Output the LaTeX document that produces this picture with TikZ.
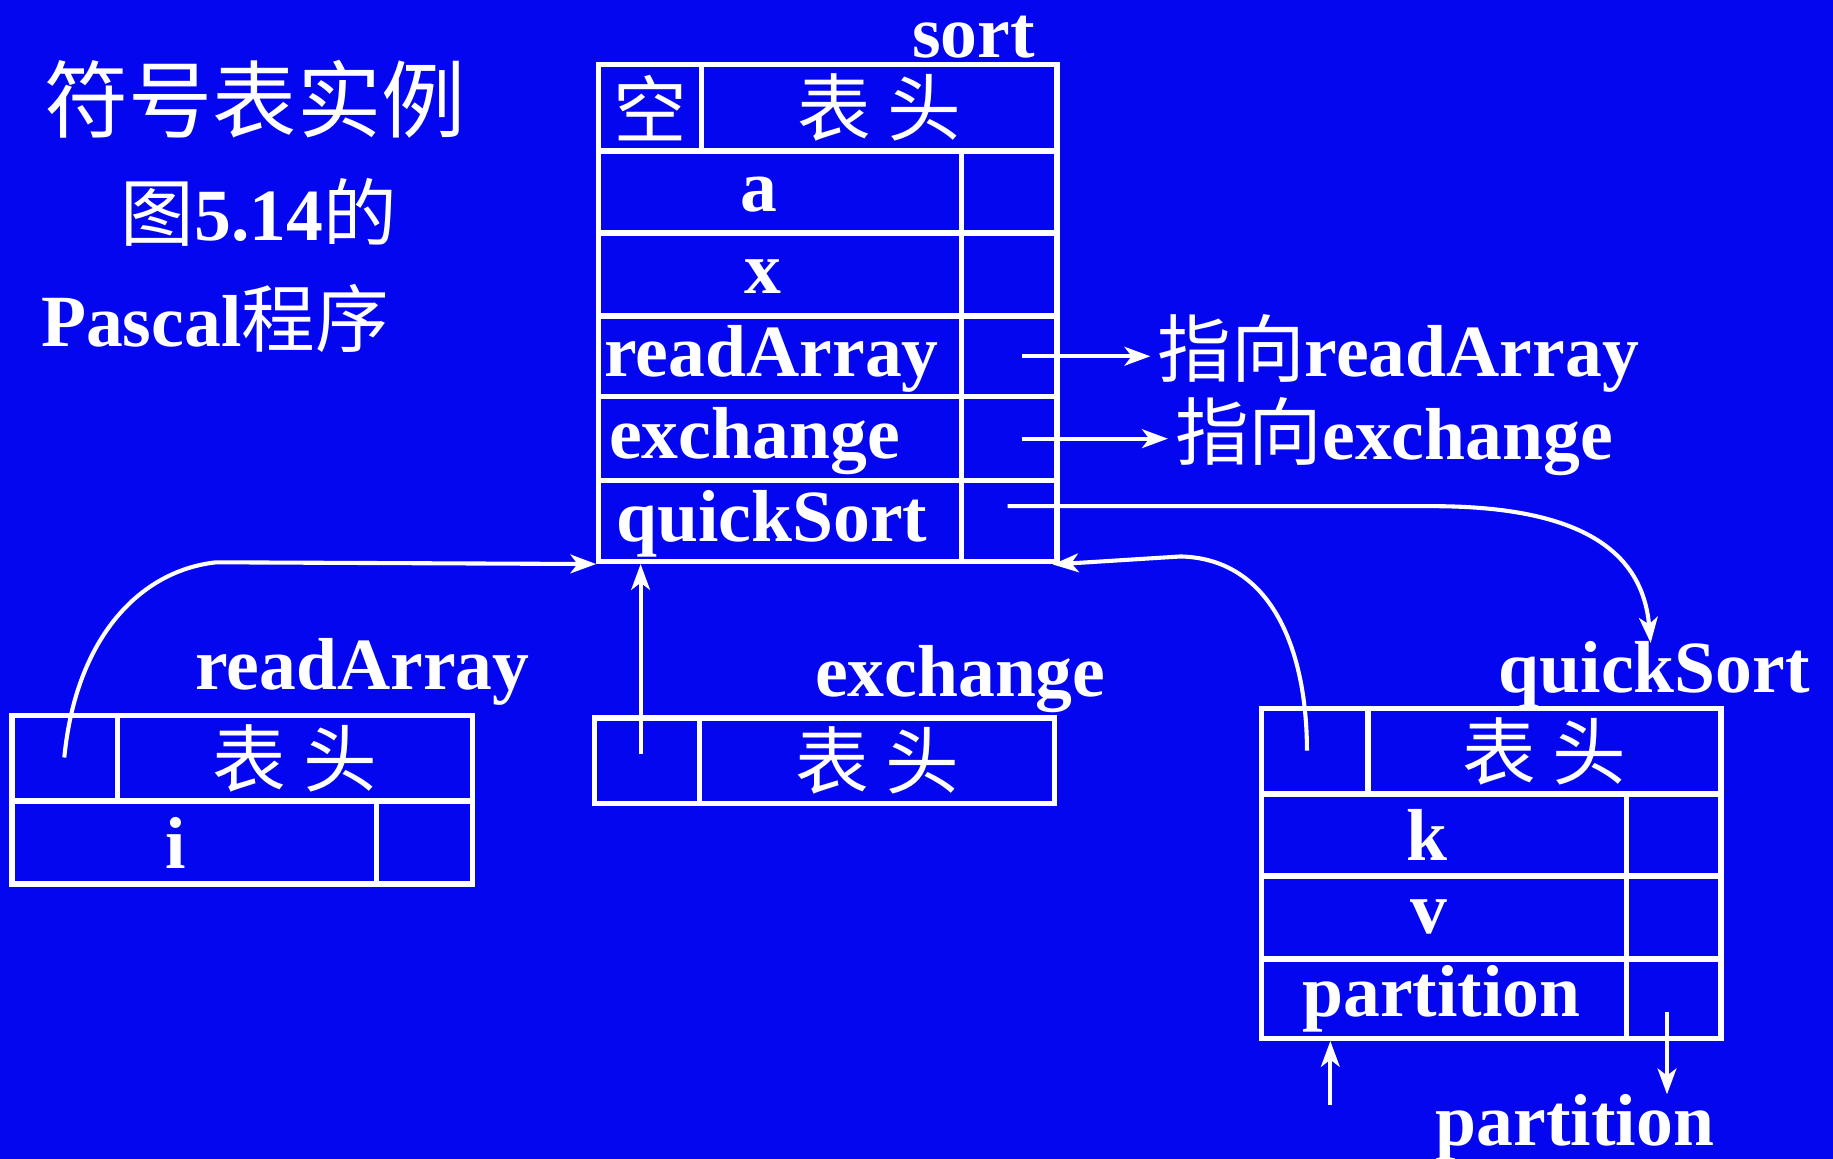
\documentclass[tikz,border=0pt]{standalone}
\usepackage{fontspec}
\setmainfont{Liberation Serif}
\newfontfamily\cjk{Noto Sans CJK SC}
\usetikzlibrary{arrows.meta}

\definecolor{slideblue}{RGB}{4,6,240}

\begin{document}
\begin{tikzpicture}[
        x=1pt, y=-1pt, % one unit per pixel, y downwards
        every node/.style = {text=white, font=\fontsize{63}{70}\selectfont\bfseries},
        cell/.style = {draw=white, line width=4.5pt, anchor=north west, inner sep=0pt}, % table cell
        lbl/.style = {anchor=base west, inner sep=0pt},
        entry/.style = {anchor=west, inner sep=0pt},
        ptr/.style = {draw=white, line width=3.5pt, -{Stealth[length=22pt, width=16pt, inset=6pt]}},
    ]

    \useasboundingbox (0,0) rectangle (1568,991);
    \fill[slideblue] (0,0) rectangle (1568,991);

    % title
    \node[anchor=west, inner sep=0pt, font=\fontsize{72}{80}\selectfont\cjk] (title1) at (38,85) {符号表实例};
    \node[anchor=west, inner sep=0pt] (title2) at (103,182) {{\cjk\mdseries 图}5.14{\cjk\mdseries 的}};
    \node[anchor=west, inner sep=0pt] (title3) at (35,272) {Pascal{\cjk\mdseries 程序}};

    % table of sort
    \node[lbl] (sortName) at (780,49) {sort};
    \node[cell, minimum width=88pt, minimum height=74pt] (sortNil) at (510,53) {\cjk\mdseries 空};
    \node[cell, minimum width=304pt, minimum height=74pt] (sortHead) at (598,53) {\cjk\mdseries 表 头};
    \foreach \nm/\txt/\top/\h/\dx in {sortA/a/127/70/123, sortX/x/197/71/127, sortRead/readArray/268/69/7,
            sortExch/exchange/337/72/11, sortQuick/quickSort/409/69/17} {
        \node[cell, minimum width=310pt, minimum height=\h pt] (\nm) at (510,\top) {};
        \node[entry] (\nm T) at ([xshift=\dx pt, yshift=-2pt]\nm.west) {\txt};
        \node[cell, minimum width=82pt, minimum height=\h pt] (\nm P) at (820,\top) {};
    }

    % table of readArray
    \node[lbl] (raName) at (167,590) {readArray};
    \node[cell, minimum width=90pt, minimum height=73pt] (raNil) at (8,610) {};
    \node[cell, minimum width=304pt, minimum height=73pt] (raHead) at (98,610) {\cjk\mdseries 表 头};
    \node[cell, minimum width=312pt, minimum height=71pt] (raI) at (8,683) {};
    \node[entry] (raIT) at ([xshift=133pt]raI.west) {i};
    \node[cell, minimum width=82pt, minimum height=71pt] (raIP) at (320,683) {};

    % table of exchange
    \node[lbl] (exName) at (697,596) {exchange};
    \node[cell, minimum width=90pt, minimum height=73pt] (exNil) at (506,612) {};
    \node[cell, minimum width=304pt, minimum height=73pt] (exHead) at (596,612) {\cjk\mdseries 表 头};

    % table of quickSort
    \node[lbl] (qsName) at (1282,592) {quickSort};
    \node[cell, minimum width=91pt, minimum height=73pt] (qsNil) at (1077,604) {};
    \node[cell, minimum width=302pt, minimum height=73pt] (qsHead) at (1168,604) {\cjk\mdseries 表 头};
    \foreach \nm/\txt/\top/\h/\dx in {qsK/k/677/70/126, qsV/v/747/71/129, qsPart/partition/818/68/37} {
        \node[cell, minimum width=312pt, minimum height=\h pt] (\nm) at (1077,\top) {};
        \node[entry] (\nm T) at ([xshift=\dx pt]\nm.west) {\txt};
        \node[cell, minimum width=81pt, minimum height=\h pt] (\nm P) at (1389,\top) {};
    }
    \node[lbl] (partName) at (1228,980) {partition};

    % pointers out of sort
    \node[lbl] (toRead) at (990,322) {{\cjk\mdseries 指向}readArray};
    \node[lbl] (toExch) at (1005,393) {{\cjk\mdseries 指向}exchange};
    \coordinate (readFrom) at ([xshift=11pt]sortReadP.center);
    \coordinate (exchFrom) at ([xshift=11pt]sortExchP.center);
    \draw[ptr, shorten >=6pt] (readFrom) -- (readFrom -| toRead.west);
    \draw[ptr, shorten >=6pt] (exchFrom) -- (exchFrom -| toExch.west);
    \coordinate (quickFrom) at (862,433);
    \coordinate (quickTo) at (1412,550);
    \draw[ptr] (quickFrom) -- (1230,433) .. controls (1350,434) and (1405,470) .. (quickTo);

    % static links back to sort
    \coordinate (raLink) at (55,648);
    \draw[ptr] (raLink) .. controls (65,545) and (120,488) .. (185,481) -- (sortQuick.south west);
    \coordinate (exLink) at (548,645);
    \draw[ptr] (exLink) -- (exLink |- sortQuick.south);
    \coordinate (qsLink) at (1118,642);
    \draw[ptr, shorten >=-6pt] (qsLink) .. controls (1118,560) and (1090,478) .. (1010,476) -- (sortQuickP.south east);

    % partition
    \coordinate (partIn) at (1138,945);
    \draw[ptr] (partIn) -- (partIn |- qsPart.south);
    \coordinate (partOut) at (1426,866);
    \draw[ptr] (partOut) -- (partOut |- partName.north);
\end{tikzpicture}
\end{document}
